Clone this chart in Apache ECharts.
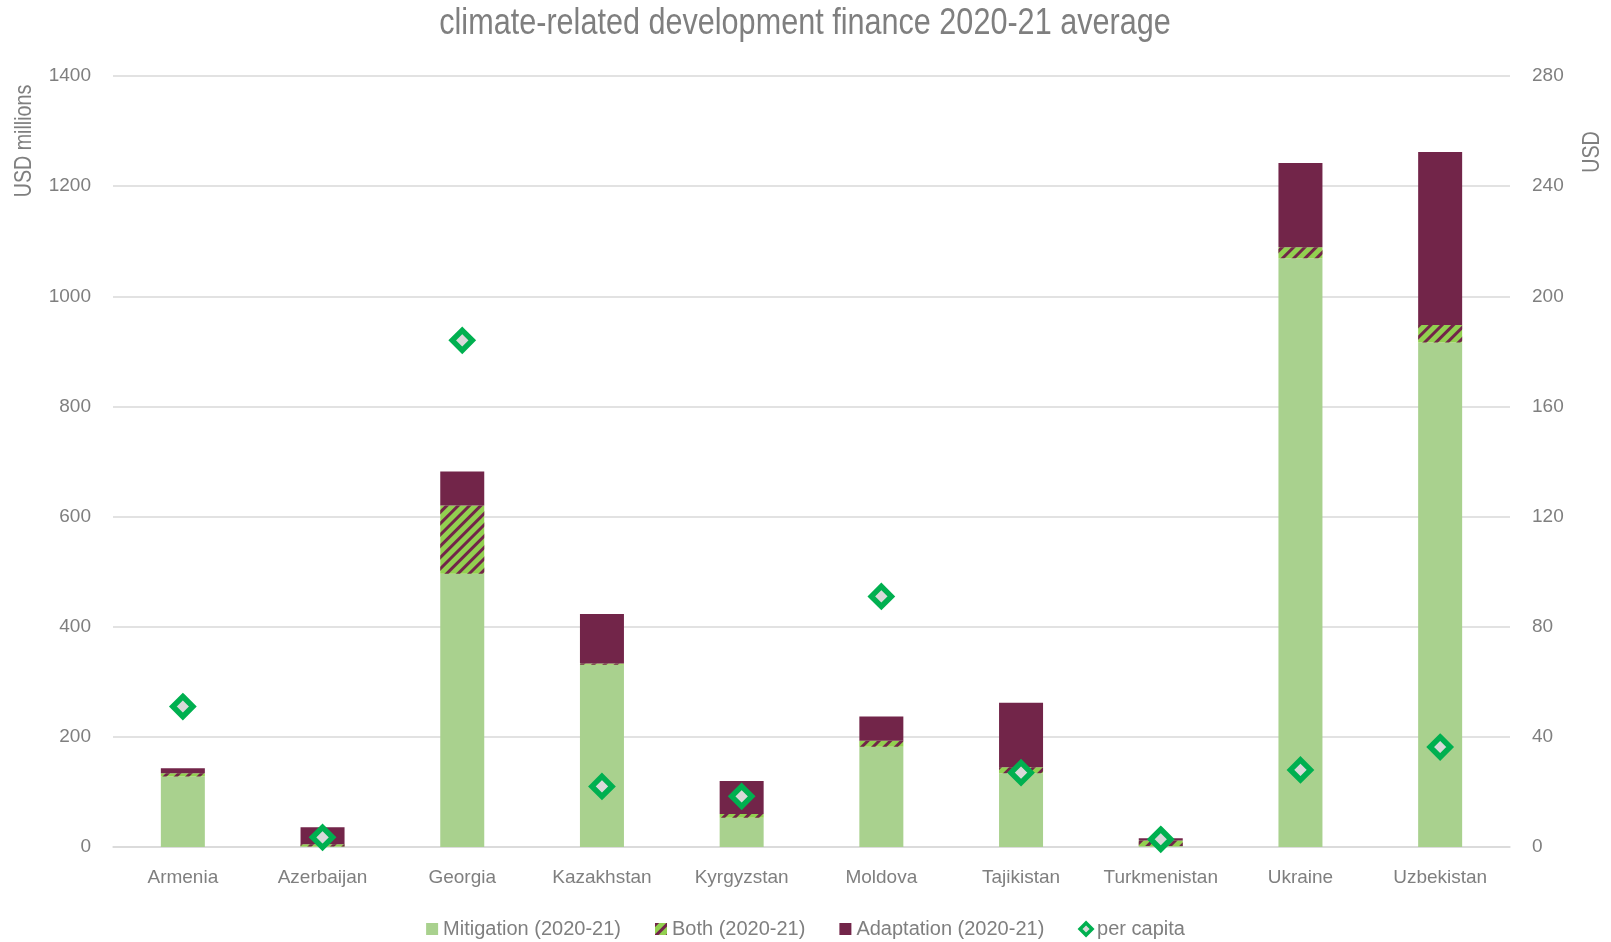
<!DOCTYPE html>
<html>
<head>
<meta charset="utf-8">
<script src="https://cdn.jsdelivr.net/npm/echarts@6/dist/echarts.min.js"></script>
<style>
html,body{margin:0;padding:0;background:#fff;}
#chart{width:1611px;height:942px;}
</style>
</head>
<body>
<div id="chart"></div>
<script>
const categories = ['Armenia','Azerbaijan','Georgia','Kazakhstan','Kyrgyzstan','Moldova','Tajikistan','Turkmenistan','Ukraine','Uzbekistan'];
const mitigation = [128, 1, 496, 331, 53, 182, 134, 2, 1069, 916];
const both = [6, 4, 124, 2, 7, 11, 11, 10, 20, 32];
const adaptation = [9, 31, 62, 90, 60, 44, 117, 4, 153, 314];
const perCapita = [51, 3.5, 184, 22, 18.4, 91, 27, 2.8, 28, 36.3];
const leftTicks = {min: 0, max: 1400, interval: 200};
const rightTicks = {min: 0, max: 280, interval: 40};
const titleText = 'climate-related development finance 2020-21 average';
const leftAxisName = 'USD millions';
const rightAxisName = 'USD';

const FONT = '"Liberation Sans", Arial, sans-serif';
const TEXT = '#7F7F7F';
const GREEN_LIGHT = '#A9D18E';
const GREEN_HATCH = '#92D050';
const MAROON = '#722549';
const DIAMOND = '#00B050';

const chart = echarts.init(document.getElementById('chart'), null, {renderer: 'canvas'});
const hatch = {color: MAROON, symbol: 'rect', symbolSize: 1, dashArrayX: [1, 0], dashArrayY: [3, 5], rotation: -Math.PI / 4};
const noComma = v => String(v);

chart.setOption({
  backgroundColor: '#fff',
  animation: false,
  grid: {left: 113, right: 101, top: 76, bottom: 95, containLabel: false},
  legend: {
    top: 914, left: 'center',
    itemWidth: 12, itemHeight: 12, itemGap: 34,
    textStyle: {fontFamily: FONT, fontSize: 20, color: TEXT},
    data: [
      {name: 'Mitigation (2020-21)', icon: 'rect'},
      {name: 'Both (2020-21)', icon: 'rect'},
      {name: 'Adaptation (2020-21)', icon: 'rect'},
      {name: 'per capita', icon: 'diamond', itemStyle: {borderWidth: 3.5}}
    ]
  },
  graphic: [
    {type: 'text', x: 805, y: 24, scaleX: 0.85,
     style: {text: titleText, fontFamily: FONT, fontSize: 36, fill: TEXT, align: 'center', verticalAlign: 'middle'}},
    {type: 'text', x: 24, y: 141, rotation: Math.PI / 2, scaleX: 0.82,
     style: {text: leftAxisName, fontFamily: FONT, fontSize: 24, fill: TEXT, align: 'center', verticalAlign: 'middle'}},
    {type: 'text', x: 1592, y: 152, rotation: Math.PI / 2, scaleX: 0.82,
     style: {text: rightAxisName, fontFamily: FONT, fontSize: 24, fill: TEXT, align: 'center', verticalAlign: 'middle'}}
  ],
  xAxis: {
    type: 'category', data: categories,
    axisLine: {show: true, lineStyle: {color: '#D9D9D9', width: 1.5}},
    axisTick: {show: false},
    axisLabel: {fontFamily: FONT, fontSize: 19, color: TEXT, margin: 21, interval: 0},
    splitLine: {show: false}
  },
  yAxis: [
    {
      type: 'value', min: leftTicks.min, max: leftTicks.max, interval: leftTicks.interval,
      axisLine: {show: false}, axisTick: {show: false},
      axisLabel: {fontFamily: FONT, fontSize: 19, color: TEXT, margin: 22, formatter: noComma},
      splitLine: {show: true, lineStyle: {color: '#D9D9D9', width: 1.5}}
    },
    {
      type: 'value', position: 'right', min: rightTicks.min, max: rightTicks.max, interval: rightTicks.interval,
      axisLine: {show: false}, axisTick: {show: false},
      axisLabel: {fontFamily: FONT, fontSize: 19, color: TEXT, margin: 22, formatter: noComma},
      splitLine: {show: false}
    }
  ],
  series: [
    {name: 'Mitigation (2020-21)', type: 'bar', stack: 'total', barWidth: 44, data: mitigation,
     itemStyle: {color: GREEN_LIGHT}},
    {name: 'Both (2020-21)', type: 'bar', stack: 'total', barWidth: 44, data: both,
     itemStyle: {color: GREEN_HATCH, decal: hatch}},
    {name: 'Adaptation (2020-21)', type: 'bar', stack: 'total', barWidth: 44, data: adaptation,
     itemStyle: {color: MAROON}},
    {name: 'per capita', type: 'scatter', yAxisIndex: 1, data: perCapita, z: 5,
     symbol: 'diamond', symbolSize: 20,
     itemStyle: {color: '#D9D9D9', borderColor: DIAMOND, borderWidth: 5.5, opacity: 1}}
  ]
});
</script>
</body>
</html>
